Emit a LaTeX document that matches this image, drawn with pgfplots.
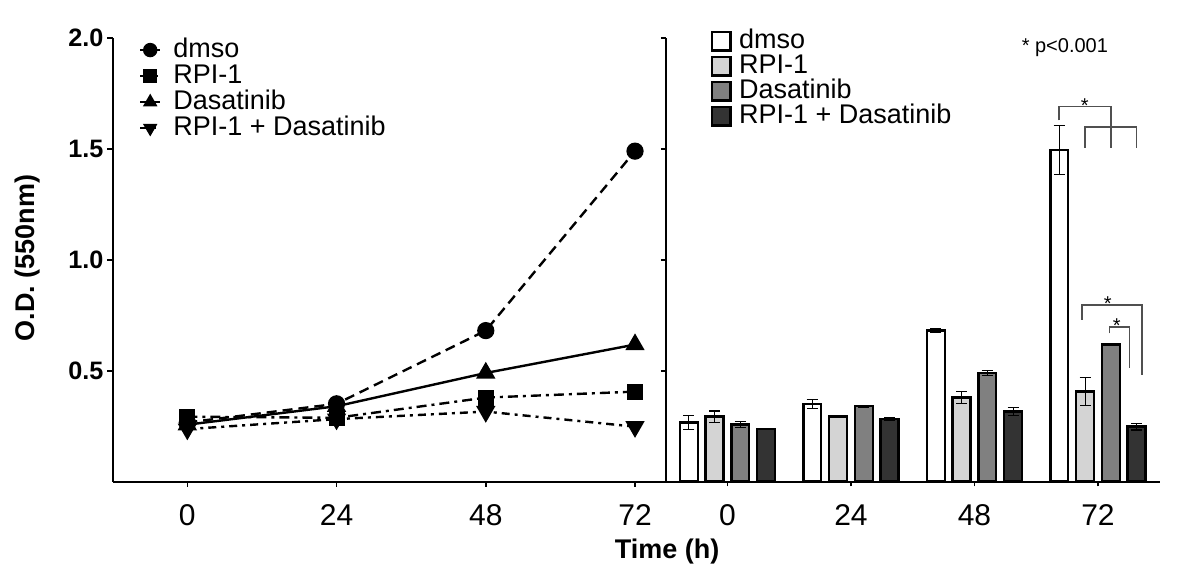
\documentclass[border=0pt]{standalone}
\usepackage{fontspec}
\setmainfont{Liberation Sans}
\usepackage{pgfplots}
\pgfplotsset{compat=1.18}
\definecolor{cLight}{HTML}{D4D4D4}
\definecolor{cMid}{HTML}{808080}
\definecolor{cDark}{HTML}{333333}
\definecolor{cBr}{HTML}{505050}
\pgfplotsset{
  common/.style={
    scale only axis, ymin=0, ymax=2, height=221.85pt,
    axis x line*=bottom, axis y line*=left,
    axis line style={line width=1pt,-},
    tick align=outside, major tick length=2.6pt,
    tick style={line width=0.8pt, black},
    ytick={0.5,1,1.5,2}, clip=false,
    /pgf/number format/assume math mode=true,
    xticklabel style={font=\fontsize{15}{17}\selectfont, yshift=-5.5pt},
  },
}
\begin{document}
\begin{tikzpicture}
\useasboundingbox (0,0) rectangle (600pt,288pt);
% ---------------- left: line chart
\begin{axis}[common,
  at={(56.35pt,47.15pt)}, anchor=south west,
  width=276.7pt, xmin=-12, xmax=77,
  xtick={0,24,48,72},
  yticklabel style={font=\bfseries\fontsize{12.6}{15}\selectfont, xshift=1.5pt,
    /pgf/number format/fixed, /pgf/number format/fixed zerofill,
    /pgf/number format/precision=1},
  legend cell align=left,
  legend style={draw=none, fill=none, at={(0.036,1.012)}, anchor=north west,
    font=\fontsize{13.5}{16}\selectfont, row sep=0pt,
    nodes={inner ysep=0pt, text height=10pt, text depth=3pt, inner xsep=3pt}},
  legend image code/.code={\draw[mark repeat=2,mark phase=2,#1,mark size=3pt] plot coordinates {(0pt,0pt)(5pt,0pt)(10pt,0pt)}; \path (13pt,0pt);},
]
\addplot[black, line width=1.2pt, dash pattern=on 5pt off 3pt, mark=*, mark size=3.7pt, mark options={solid, fill=black}]
  coordinates {(0,0.267) (24,0.351) (48,0.681) (72,1.49)};
\addlegendentry{dmso}
\addplot[black, line width=1.2pt, dash pattern=on 5pt off 2.5pt on 1.5pt off 2.5pt, mark=square*, mark size=3.4pt, mark options={solid, fill=black}]
  coordinates {(0,0.293) (24,0.288) (48,0.379) (72,0.406)};
\addlegendentry{RPI-1}
\addplot[black, line width=1.2pt, solid, mark=triangle*, mark size=4.4pt, mark options={solid, fill=black}]
  coordinates {(0,0.257) (24,0.340) (48,0.490) (72,0.618)};
\addlegendentry{Dasatinib}
\addplot[black, line width=1.2pt, dash pattern=on 4pt off 2.5pt on 1.5pt off 2.5pt, mark=triangle*, mark size=4.4pt, mark options={solid, fill=black, rotate=180}]
  coordinates {(0,0.237) (24,0.282) (48,0.316) (72,0.248)};
\addlegendentry{RPI-1 + Dasatinib}
\end{axis}
% ---------------- right: bar chart
\begin{axis}[common,
  at={(332.85pt,47.15pt)}, anchor=south west,
  width=247pt, xmin=-0.5, xmax=3.5,
  xtick={0,1,2,3}, xticklabels={0,24,48,72},
  yticklabels={}, major tick length=2.4pt,
  ybar, bar width=0.145,
  legend cell align=left,
  legend style={draw=none, fill=none, at={(0.078,1.031)}, anchor=north west,
    font=\fontsize{13.5}{16}\selectfont, row sep=0pt,
    nodes={inner ysep=0pt, text height=9.8pt, text depth=2.7pt, inner xsep=2pt}},
  legend image code/.code={\draw[#1, /pgfplots/bar shift=0pt] (0pt,-4.6pt) rectangle (9.4pt,4.6pt); \path (11pt,0pt);},
  error bars/error bar style={line width=0.6pt, black, solid},
  error bars/error mark options={rotate=90, mark size=2.8pt, line width=0.6pt, black},
]
\addplot[draw=black, fill=white, line width=1.2pt, bar shift=-0.313,
  error bars/.cd, y dir=both, y explicit]
  coordinates {(0,0.267) +- (0,0.031) (1,0.351) +- (0,0.021) (2,0.681) +- (0,0.010) (3,1.495) +- (0,0.11)};
\addlegendentry{dmso}
\addplot[draw=black, fill=cLight, line width=1.2pt, bar shift=-0.104,
  error bars/.cd, y dir=both, y explicit]
  coordinates {(0,0.293) +- (0,0.026) (1,0.293) +- (0,0.002) (2,0.379) +- (0,0.028) (3,0.406) +- (0,0.064)};
\addlegendentry{RPI-1}
\addplot[draw=black, fill=cMid, line width=1.2pt, bar shift=0.104,
  error bars/.cd, y dir=both, y explicit]
  coordinates {(0,0.257) +- (0,0.013) (1,0.340) +- (0,0.003) (2,0.490) +- (0,0.013) (3,0.618) +- (0,0.003)};
\addlegendentry{Dasatinib}
\addplot[draw=black, fill=cDark, line width=1.2pt, bar shift=0.313,
  error bars/.cd, y dir=both, y explicit]
  coordinates {(0,0.237) +- (0,0.003) (1,0.282) +- (0,0.007) (2,0.316) +- (0,0.019) (3,0.248) +- (0,0.015)};
\addlegendentry{RPI-1 + Dasatinib}
% significance brackets
\draw[cBr, line width=0.8pt] (axis cs:2.687,1.629) -- (axis cs:2.687,1.692) -- (axis cs:3.104,1.692) -- (axis cs:3.104,1.505);
\draw[cBr, line width=0.8pt] (axis cs:2.896,1.505) -- (axis cs:2.896,1.600) -- (axis cs:3.313,1.600) -- (axis cs:3.313,1.505);
\draw[cBr, line width=0.8pt] (axis cs:2.872,0.731) -- (axis cs:2.872,0.796) -- (axis cs:3.358,0.796) -- (axis cs:3.358,0.48);
\draw[cBr, line width=0.8pt] (axis cs:3.094,0.668) -- (axis cs:3.094,0.698) -- (axis cs:3.256,0.698) -- (axis cs:3.256,0.511);
\node[font=\fontsize{10}{12}\selectfont, inner sep=0pt, anchor=base] at (axis cs:2.894,1.665) {*};
\node[font=\fontsize{10}{12}\selectfont, inner sep=0pt, anchor=base] at (axis cs:3.08,0.77) {*};
\node[font=\fontsize{10}{12}\selectfont, inner sep=0pt, anchor=base] at (axis cs:3.153,0.672) {*};
\node[font=\fontsize{10}{12}\selectfont, inner sep=0pt] at (axis cs:2.732,1.955) {* p<0.001};
\end{axis}
\node[rotate=90, font=\bfseries\fontsize{13.5}{16}\selectfont] at (14pt,159pt) {O.D. (550nm)};
\node[font=\bfseries\fontsize{13.5}{16}\selectfont] at (333.5pt,12pt) {Time (h)};
\end{tikzpicture}
\end{document}
